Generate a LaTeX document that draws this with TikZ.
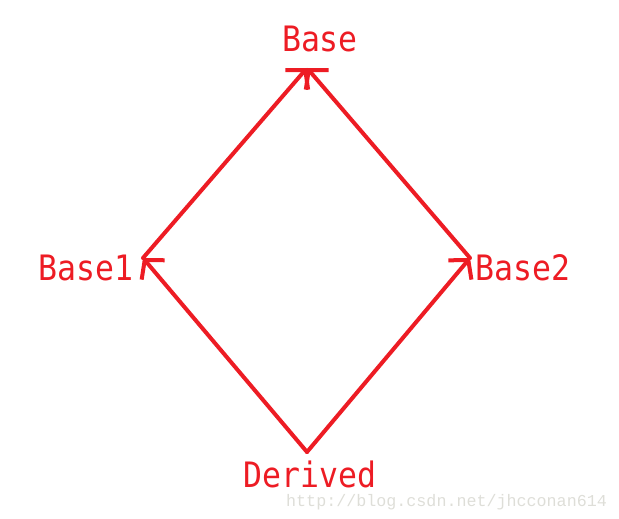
\documentclass[tikz,border=0pt]{standalone}
\usepackage{fontspec}
\newfontfamily\namefont[FakeStretch=0.9]{DejaVu Sans Mono}
\newfontfamily\markfont{Liberation Mono}
\usetikzlibrary{arrows.meta}
\definecolor{penred}{RGB}{237,28,36}
\definecolor{markgray}{RGB}{222,222,216}

\begin{document}
\begin{tikzpicture}[x=1pt, y=-1pt,
    edge/.style = {draw=penred, line width=4pt, line cap=round, line join=round,
                   -{Straight Barb[length=13pt, width=30pt, line width=4pt]}},
    classname/.style = {text=penred, inner sep=0pt, font=\namefont\fontsize{35}{35}\selectfont}]
                        \useasboundingbox (0,0) rectangle (619,519);

                        \coordinate (top) at (307,68);
                        \coordinate (left) at (143,258);
                        \coordinate (right) at (470,258);
                        \coordinate (bottom) at (307,452);

                        \node (base) [classname, anchor=base] at (320,52) {Base};
                        \node (baseone) [classname, anchor=base east] at (134,280) {Base1};
                        \node (basetwo) [classname, anchor=base west] at (475,280) {Base2};
                        \node (derived) [classname, anchor=base] at (310,487) {Derived};
                        \node (mark) [text=markgray, inner sep=0pt, anchor=base west,
                                      font=\markfont\fontsize{16.7}{17}\selectfont] at (286,506) {http://blog.csdn.net/jhcconan614};

                        \draw[edge] (bottom) -- (left);
                        \draw[edge] (bottom) -- (right);
                        \draw[edge] (left) -- (top);
                        \draw[edge] (right) -- (top);
                    \end{tikzpicture}
\end{document}
